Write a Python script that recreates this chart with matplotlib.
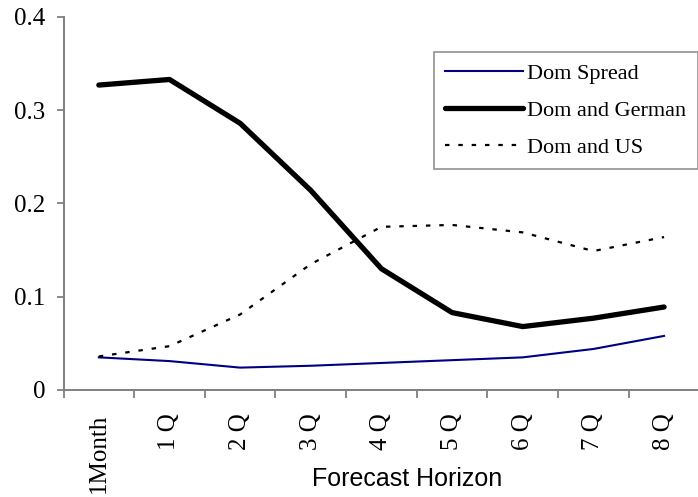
import matplotlib
matplotlib.use('Agg')
import matplotlib.pyplot as plt

# Data
horizons = ['1Month', '1 Q', '2 Q', '3 Q', '4 Q', '5 Q', '6 Q', '7 Q', '8 Q']
dom_spread = [0.035, 0.031, 0.024, 0.026, 0.029, 0.032, 0.035, 0.044, 0.058]
dom_german = [0.327, 0.333, 0.286, 0.214, 0.130, 0.083, 0.068, 0.077, 0.089]
dom_us = [0.036, 0.047, 0.081, 0.135, 0.175, 0.177, 0.169, 0.149, 0.164]
yticks = [0, 0.1, 0.2, 0.3, 0.4]
ytick_labels = ['0', '0.1', '0.2', '0.3', '0.4']

serif = 'Liberation Serif'
sans = 'Liberation Sans'

fig = plt.figure(figsize=(6.98, 4.97), dpi=100)
ax = fig.add_axes([0.091, 0.2153, 0.911, 0.7505])

x = list(range(len(horizons)))
ax.plot(x, dom_spread, color='#000080', lw=1.5, label='Dom Spread')
ax.plot(x, dom_german, color='black', lw=3.8, solid_capstyle='round',
        label='Dom and German')
ax.plot(x, dom_us, color='black', lw=1.6, dashes=(2, 4), label='Dom and US')

ax.set_xlim(-0.5, len(horizons) - 0.5)
ax.set_ylim(0, 0.4)

# category labels at centres, tick marks between categories
ax.set_xticks(x)
ax.set_xticklabels(horizons, rotation=90, fontfamily=serif, fontsize=18)
ax.set_xticks([i - 0.5 for i in range(len(horizons) + 1)], minor=True)
ax.tick_params(axis='x', which='major', length=0, pad=17)
ax.tick_params(axis='x', which='minor', length=6, width=1.3, color='#808080',
               direction='out')

ax.set_yticks(yticks)
ax.set_yticklabels(ytick_labels, fontfamily=serif, fontsize=18)
ax.tick_params(axis='y', length=5, width=1.3, color='#808080', pad=8)

for side in ['top', 'right']:
    ax.spines[side].set_visible(False)
for side in ['left', 'bottom']:
    ax.spines[side].set_color('#808080')
    ax.spines[side].set_linewidth(1.4)

ax.set_xlabel('Forecast Horizon', fontfamily=sans, fontsize=18)
ax.xaxis.set_label_coords(0.54, -0.257)
ax.xaxis.label.set_va('baseline')

leg = ax.legend(loc='upper right', bbox_to_anchor=(0.9995, 1 - 52 / 497),
                bbox_transform=fig.transFigure, borderaxespad=0,
                prop={'family': serif, 'size': 16}, frameon=True,
                fancybox=False, handlelength=3.5, handletextpad=0.2,
                labelspacing=0.74, borderpad=0.5)
leg.get_frame().set_edgecolor('#808080')
leg.get_frame().set_linewidth(1.3)

fig.savefig('out.png', dpi=100)
